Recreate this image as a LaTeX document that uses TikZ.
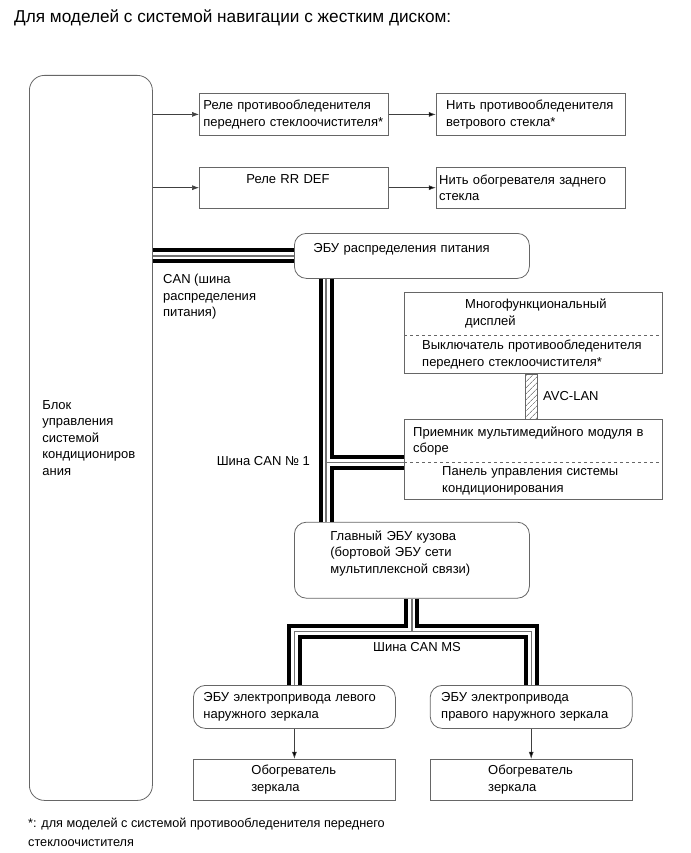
\documentclass[tikz,border=0pt]{standalone}
\usepackage{fontspec}
\setmainfont{Liberation Sans}
\usetikzlibrary{positioning,arrows.meta,fit,patterns.meta}
\newcommand{\boxfont}{\fontsize{13}{16.5}\selectfont}
\newcommand{\titlefont}{\fontsize{17.2}{18}\selectfont}
\newcommand{\notefont}{\fontsize{12.7}{19}\selectfont}
\tikzset{%
box/.style={draw=black!60,line width=0.8pt,rectangle,inner sep=0pt,align=left,font=\boxfont},
ecu/.style={box,rounded corners=12pt},
sect/.style={rectangle,inner sep=0pt,align=left,font=\boxfont,minimum width=258pt},
lbl/.style={inner sep=0pt,align=left,font=\boxfont},
arr/.style={->,draw=black!75,line width=0.6pt},
>={Latex[length=7pt,width=5pt]}
}
\begin{document}
\begin{tikzpicture}[x=1pt,y=-1pt]
  \useasboundingbox (0,0) rectangle (690,853);

  \node[lbl,font=\titlefont,anchor=west] (title) at (14,18)
    {Для моделей с системой навигации с жестким диском:};

  % air conditioning amplifier
  \node[ecu,rounded corners=15pt,anchor=north west,minimum width=123pt,minimum height=725pt,text width=97pt] (acctrl) at (29,75)
    {Блок\\управления\\системой\\кондициониров\\ания};

  % relays and heaters
  \node[box,anchor=north west,minimum width=189pt,minimum height=42pt,text width=181pt] (relay1) at (199,93)
    {Реле противообледенителя\\переднего стеклоочистителя*};
  \node[box,minimum width=189pt,minimum height=42pt,text width=169pt] (wsheat) [right=47pt of relay1]
    {Нить противообледенителя\\ветрового стекла*};
  \node[box,minimum width=189pt,minimum height=41pt,text width=95pt] (rrdef) [below=31pt of relay1]
    {Реле RR DEF\\~};
  \node[box,minimum width=189pt,minimum height=41pt,text width=183pt] (rrheat) [right=47pt of rrdef]
    {Нить обогревателя заднего\\стекла};

  % ecus on the bus
  \node[ecu,anchor=north west,minimum width=235pt,minimum height=45pt,text width=197pt] (pdu) at (294,233)
    {ЭБУ распределения питания\\~};
  \node[ecu,minimum width=235pt,minimum height=76pt,text width=163pt] (body) [below=243pt of pdu]
    {Главный ЭБУ кузова\\(бортовой ЭБУ сети\\мультиплексной связи)\\~};

  \node[sect,anchor=north west,minimum height=43pt,text width=136pt] (mfd) at (404,292)
    {Многофункциональный\\дисплей};
  \node[sect,minimum height=38pt,text width=222pt] (defsw) [below=0pt of mfd]
    {Выключатель противообледенителя\\переднего стеклоочистителя*};
  \node[box,fit=(mfd)(defsw)] (mfdbox) {};
  \draw[dashed,draw=black!60,line width=0.6pt] (mfd.south west) -- (mfd.south east);

  \node[sect,minimum height=42pt,text width=240pt] (recv) [below=46pt of defsw]
    {Приемник мультимедийного модуля в\\сборе};
  \node[sect,minimum height=37pt,text width=182pt] (acpanel) [below=0pt of recv]
    {Панель управления системы\\кондиционирования};
  \node[box,fit=(recv)(acpanel)] (mmbox) {};
  \draw[dashed,draw=black!60,line width=0.6pt] (recv.south west) -- (recv.south east);

  % mirrors
  \node[ecu,anchor=north west,minimum width=202pt,minimum height=43pt,text width=182pt] (lmirror) at (193,685)
    {ЭБУ электропривода левого\\наружного зеркала};
  \node[ecu,minimum width=202pt,minimum height=43pt,text width=180pt] (rmirror) [right=34pt of lmirror]
    {ЭБУ электропривода\\правого наружного зеркала};
  \node[box,minimum width=202pt,minimum height=41pt,text width=86pt] (lheat) [below=30pt of lmirror]
    {Обогреватель\\зеркала};
  \node[box,minimum width=202pt,minimum height=41pt,text width=86pt] (rheat) [below=30pt of rmirror]
    {Обогреватель\\зеркала};

  % direct wires
  \draw[arr] (acctrl.east |- relay1.west) -- (relay1.west);
  \draw[arr] (acctrl.east |- rrdef.west) -- (rrdef.west);
  \path[arr] (relay1) edge (wsheat)
             (rrdef) edge (rrheat)
             (lmirror) edge (lheat)
             (rmirror) edge (rheat);

  % can lines
  \coordinate (can1) at ([xshift=32pt]pdu.south west);
  \coordinate (canms) at ([yshift=-33pt]body.south);
  \foreach \col/\wd in {black/15pt,white/7pt,black!55/1.2pt}
    \draw[line width=\wd,draw=\col] (acctrl.east |- pdu.west) -- (pdu.west)
      (can1) -- (can1 |- body.north)
      (can1 |- recv.south) -- (recv.south west)
      (body.south) -- (canms)
      (lmirror.north) |- (canms) -| (rmirror.north);

  % avc-lan
  \path[draw=black!60,line width=0.6pt,pattern={Lines[angle=45,distance=4pt,line width=0.5pt]},pattern color=black!70]
    ([xshift=-8pt]mfdbox.south) rectangle ([xshift=4pt]mmbox.north);

  \node[lbl,anchor=north west] (canlbl) at (163,274) {CAN (шина\\распределения\\питания)};
  \node[lbl,anchor=east] (can1lbl) at (310,461) {Шина CAN № 1};
  \node[lbl,anchor=west] (avclbl) at (543,396) {AVC-LAN};
  \node[lbl] (canmslbl) at (417,647) {Шина CAN MS};

  \node[lbl,font=\notefont,anchor=north west] (note) at (28,818)
    {*: для моделей с системой противообледенителя переднего\\стеклоочистителя};
\end{tikzpicture}
\end{document}
